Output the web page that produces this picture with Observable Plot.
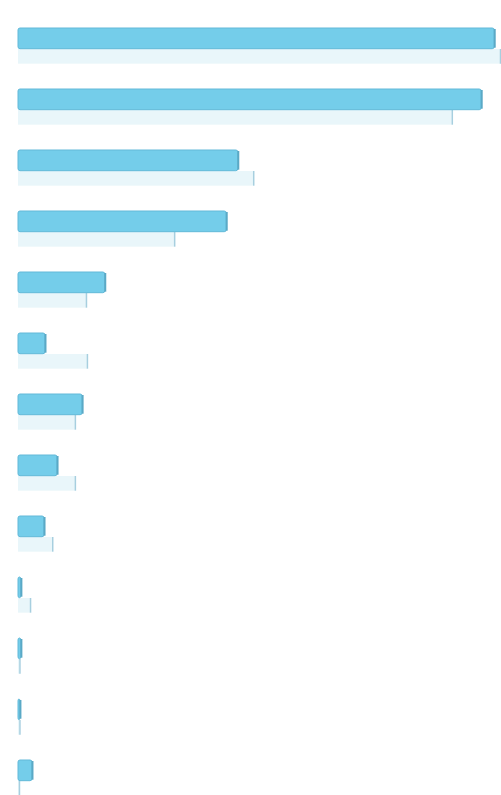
<!DOCTYPE html>
<html>
<head>
<meta charset="utf-8">
<script src="https://cdn.jsdelivr.net/npm/d3@7"></script>
<script src="https://cdn.jsdelivr.net/npm/@observablehq/plot@0.6"></script>
<style>
  html, body { margin: 0; padding: 0; background: #ffffff; }
  #chart svg { display: block; }
</style>
</head>
<body>
<div id="chart"></div>
<script>
const categories = ["G1","G2","G3","G4","G5","G6","G7","G8","G9","G10","G11","G12","G13"];
const seriesA = [98.8, 96.1, 45.6, 43.2, 18.0, 5.6, 13.3, 8.1, 5.4, 0.6, 0.6, 0.4, 2.9];
const seriesB = [100, 90.0, 48.8, 32.4, 14.1, 14.3, 11.8, 11.8, 7.1, 2.5, 0.3, 0.3, 0.2];

const rowsA = categories.map((c, i) => ({cat: c, value: seriesA[i]}));
const rowsB = categories.map((c, i) => ({cat: c, value: seriesB[i]}));

const band = (818 - 21) / 13;

const chart = Plot.plot({
  width: 501,
  height: 795,
  margin: 0,
  style: {background: "#ffffff"},
  x: {domain: [0, 100], range: [18, 500], axis: null},
  y: {domain: categories, range: [21, 818], padding: 0, axis: null},
  marks: [
    Plot.barX(rowsB, {
      y: "cat", x: "value",
      fill: "#e9f6fa",
      insetTop: 26, insetBottom: band - 41
    }),
    Plot.tickX(rowsB, {
      y: "cat", x: "value",
      stroke: "#a7cfdf", strokeWidth: 1.5,
      insetTop: 26, insetBottom: band - 41
    }),
    Plot.barX(rowsA, {
      y: "cat", x: "value",
      fill: "#74cdea",
      stroke: "#62b9d8", strokeWidth: 1,
      rx: 2,
      insetTop: 5, insetBottom: band - 26
    }),
    Plot.tickX(rowsA, {
      y: "cat", x: "value",
      stroke: "#5aa9c6", strokeWidth: 2,
      insetTop: 6, insetBottom: band - 25
    })
  ]
});
document.getElementById("chart").appendChild(chart);
</script>
</body>
</html>
